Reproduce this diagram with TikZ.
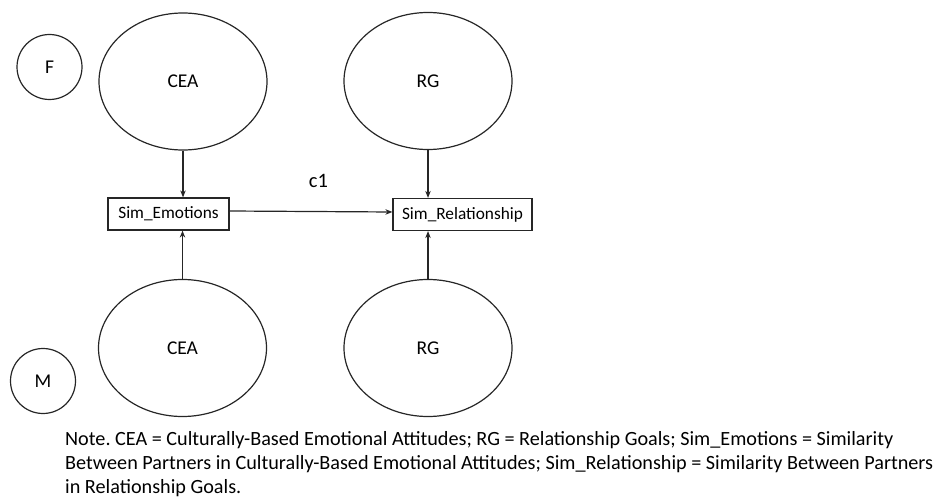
\documentclass[tikz,border=0pt]{standalone}
\usepackage{fontspec}
\setmainfont{Carlito}
\usetikzlibrary{shapes.geometric,arrows.meta}
\frenchspacing
\begin{document}
\begin{tikzpicture}[x=1pt,y=-1pt,
  lat/.style={draw=black!85,ellipse,line width=1.2pt,minimum width=168pt,minimum height=137pt,inner sep=0pt,font=\fontsize{19.5}{21}\selectfont},
  grp/.style={draw=black!85,circle,line width=1.2pt,minimum size=65pt,inner sep=0pt,font=\fontsize{19.5}{21}\selectfont},
  obs/.style={draw=black!85,rectangle,line width=1.2pt,minimum height=32pt,inner sep=0pt,font=\fontsize{17.3}{19}\selectfont},
  arr/.style={draw=black!85,line width=1.2pt,-{Stealth[length=7pt,width=5.5pt]}}]
\useasboundingbox (0,0) rectangle (951,500);
\node[grp] (F) at (49.5,67) {F};
\node[grp] (M) at (43,381) {M};
\node[lat] (CEA1) at (183,81.5) {CEA};
\node[lat] (RG1) at (428,81) {RG};
\node[lat] (CEA2) at (182.5,348) {CEA};
\node[lat] (RG2) at (428,348) {RG};
\node[obs,minimum width=121pt] (SE) at (168.5,214) {Sim\_Emotions};
\node[obs,minimum width=139pt] (SR) at (462.5,214.5) {Sim\_Relationship};
\node[font=\fontsize{20.5}{22}\selectfont] (c1) at (318.5,180.5) {c1};
\draw[arr] (CEA1.south) -- (CEA1.south |- SE.north);
\draw[arr] (CEA2.north) -- (CEA2.north |- SE.south);
\draw[arr] (RG1.south) -- (RG1.south |- SR.north);
\draw[arr] (RG2.north) -- (RG2.north |- SR.south);
\draw[arr] ([yshift=3pt]SE.east) -- ([yshift=2.5pt]SR.west);
\node[anchor=north west,align=left,inner sep=0pt,font=\fontsize{20.2}{24.3}\selectfont] (note) at (65,431)
 {Note. CEA = Culturally-Based Emotional Attitudes; RG = Relationship Goals; Sim\_Emotions = Similarity\\
 Between Partners in Culturally-Based Emotional Attitudes; Sim\_Relationship = Similarity Between Partners\\
 in Relationship Goals.};
\end{tikzpicture}
\end{document}
